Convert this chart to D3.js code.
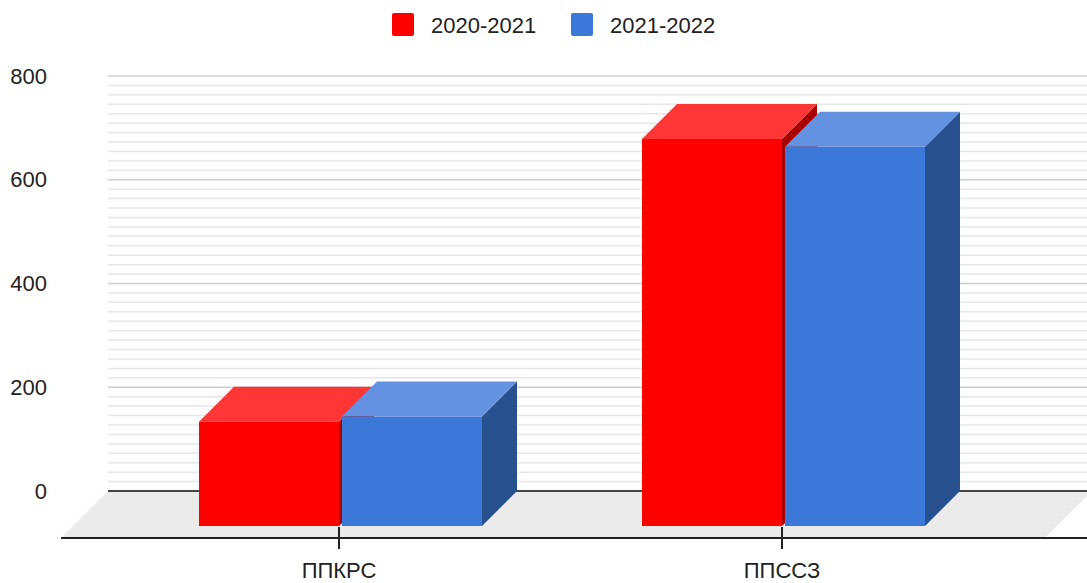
<!DOCTYPE html>
<html>
<head>
<meta charset="utf-8">
<script src="https://cdn.jsdelivr.net/npm/d3@7"></script>
<style>
  html, body { margin: 0; padding: 0; background: #fff; }
  svg text { font-family: "Liberation Sans", Arial, sans-serif; fill: #222; }
</style>
</head>
<body>
<svg width="1087" height="583"></svg>
<script>
const categories = ['ППКРС', 'ППССЗ'];
const seriesNames = ['2020-2021', '2021-2022'];
const values2020 = [201, 746];
const values2021 = [211, 731];
const yTicks = [0, 200, 400, 600, 800];

const frontColors = ['#ff0000', '#3c78d8'];
const topColors = ['#ff3636', '#6592e0'];
const sideColors = ['#a80000', '#27508f'];

const data = categories.map((c, i) => ({
  category: c,
  values: [
    { name: seriesNames[0], value: values2020[i], s: 0 },
    { name: seriesNames[1], value: values2021[i], s: 1 }
  ]
}));

const width = 1087;
const depth = 35;      // bar depth (and distance from bar front to back wall)
const floorFront = 12; // floor sticks out in front of the bars

const svg = d3.select('svg');

// scales in the bar front plane
const x = d3.scaleBand().domain(categories).range([119, 1005]);
const xInner = d3.scaleBand().domain(seriesNames)
  .range([x.bandwidth() / 2 - 141.5, x.bandwidth() / 2 + 141.5])
  .paddingInner(0.021);
const y = d3.scaleLinear().domain([0, 800]).range([526, 111]);

const wallLeft = 73 + depth;

// back wall gridlines
const minor = [];
yTicks.slice(0, -1).forEach(t => {
  for (let i = 1; i < 11; i++) minor.push(t + i * 200 / 11);
});

const wall = svg.append('g').attr('transform', `translate(${depth}, ${-depth})`);
wall.selectAll('.minor')
  .data(minor)
  .enter()
  .append('line')
  .attr('x1', wallLeft - depth).attr('x2', width)
  .attr('y1', d => y(d)).attr('y2', d => y(d))
  .attr('stroke', '#e6e6e6')
  .attr('stroke-width', 1.5);

wall.selectAll('.major')
  .data(yTicks.filter(d => d > 0))
  .enter()
  .append('line')
  .attr('x1', wallLeft - depth).attr('x2', width)
  .attr('y1', d => y(d)).attr('y2', d => y(d))
  .attr('stroke', '#cccccc')
  .attr('stroke-width', 1.5);

// floor
const fl = 73 - floorFront, fr = 1045 - floorFront;
svg.append('polygon')
  .attr('points', [
    [wallLeft, y(0) - depth],
    [fr + depth + floorFront + 12, y(0) - depth],
    [fr + 12, y(0) + floorFront],
    [fl, y(0) + floorFront]
  ].map(p => p.join(',')).join(' '))
  .attr('fill', '#ebebeb');

svg.append('line')
  .attr('x1', wallLeft).attr('x2', width)
  .attr('y1', y(0) - depth).attr('y2', y(0) - depth)
  .attr('stroke', '#444')
  .attr('stroke-width', 2);

// y axis labels
svg.append('g')
  .selectAll('text')
  .data(yTicks)
  .enter()
  .append('text')
  .attr('x', 47)
  .attr('y', d => y(d) - depth)
  .attr('dy', '0.35em')
  .attr('text-anchor', 'end')
  .style('font-size', '22px')
  .text(d => d);

// bars
const groups = svg.selectAll('.group')
  .data(data)
  .enter()
  .append('g')
  .attr('class', 'group')
  .attr('transform', d => `translate(${x(d.category)}, 0)`);

const bars = groups.selectAll('.bar')
  .data(d => d.values)
  .enter()
  .append('g')
  .attr('class', 'bar');

const bw = xInner.bandwidth();

bars.append('polygon')
  .attr('points', d => {
    const x0 = xInner(d.name) + bw, y0 = y(d.value), y1 = y(0);
    return [[x0, y0], [x0 + depth, y0 - depth], [x0 + depth, y1 - depth], [x0, y1]].join(' ');
  })
  .attr('fill', d => sideColors[d.s]);

bars.append('polygon')
  .attr('points', d => {
    const x0 = xInner(d.name), y0 = y(d.value);
    return [[x0, y0], [x0 + depth, y0 - depth], [x0 + bw + depth, y0 - depth], [x0 + bw, y0]].join(' ');
  })
  .attr('fill', d => topColors[d.s]);

bars.append('rect')
  .attr('x', d => xInner(d.name))
  .attr('y', d => y(d.value))
  .attr('width', bw)
  .attr('height', d => y(0) - y(d.value))
  .attr('fill', d => frontColors[d.s]);

// front axis
svg.append('line')
  .attr('x1', fl).attr('x2', width)
  .attr('y1', y(0) + floorFront).attr('y2', y(0) + floorFront)
  .attr('stroke', '#222')
  .attr('stroke-width', 2);

const xAxis = svg.append('g')
  .attr('transform', `translate(-1.5, ${y(0) + 1})`)
  .call(d3.axisBottom(x).tickSize(22).tickSizeOuter(0));
xAxis.select('.domain').remove();
xAxis.selectAll('line').attr('stroke', '#222').attr('stroke-width', 2);
xAxis.selectAll('text')
  .attr('y', 51)
  .attr('dy', 0)
  .style('font-size', '22px')
  .style('font-family', '"Liberation Sans", Arial, sans-serif')
  .attr('fill', '#222');

// legend
const legendX = [392, 571];
const legend = svg.selectAll('.legend')
  .data(seriesNames)
  .enter()
  .append('g')
  .attr('class', 'legend')
  .attr('transform', (d, i) => `translate(${legendX[i]}, 13)`);

legend.append('rect')
  .attr('width', 22)
  .attr('height', 23)
  .attr('rx', 2)
  .attr('fill', (d, i) => frontColors[i]);

legend.append('text')
  .attr('x', 39)
  .attr('y', 20)
  .style('font-size', '22px')
  .text(d => d);
</script>
</body>
</html>
